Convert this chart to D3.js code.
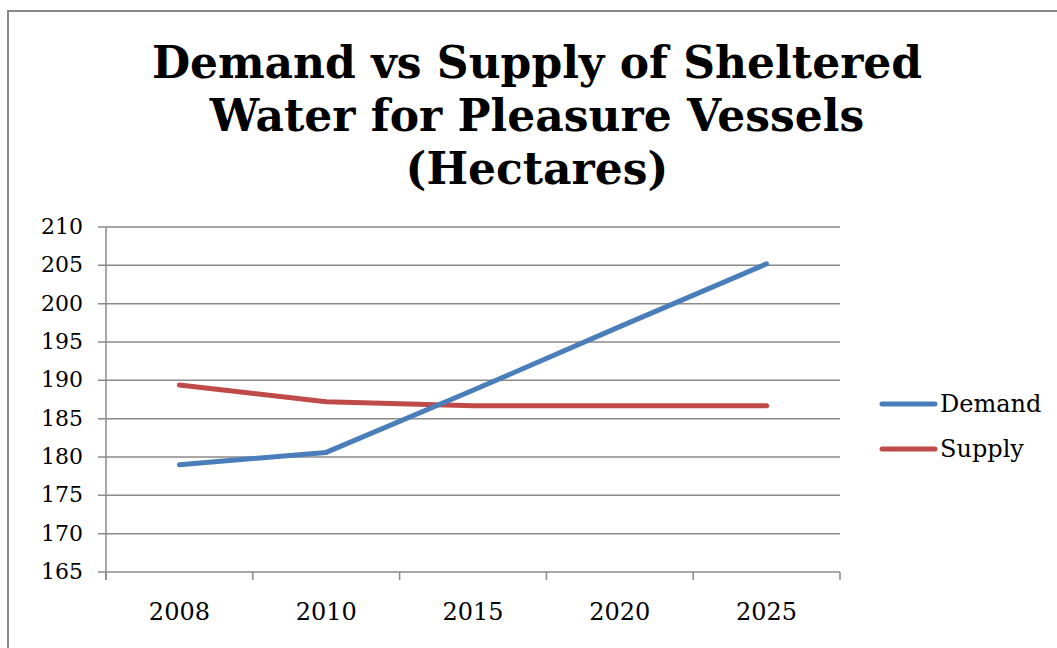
<!DOCTYPE html>
<html><head><meta charset="utf-8">
<script src="https://cdn.jsdelivr.net/npm/d3@7"></script>
<style>body{margin:0;background:#fff}svg{display:block}</style>
</head><body>
<script>
const categories = ["2008","2010","2015","2020","2025"];
const demand = [179.0, 180.6, 188.7, 197.0, 205.2];
const supply = [189.4, 187.2, 186.7, 186.7, 186.7];
const yTicks = [165,170,175,180,185,190,195,200,205,210];
const titleLines = ["Demand vs Supply of Sheltered","Water for Pleasure Vessels","(Hectares)"];

const W=1057,H=648;
const FONT="DejaVu Serif, serif";
const svg=d3.select("body").append("svg").attr("width",W).attr("height",H);
svg.append("rect").attr("width",W).attr("height",H).attr("fill","#fff");
svg.append("path").attr("d","M8,648 L8,11 L1057,11").attr("fill","none").attr("stroke","#888").attr("stroke-width",2);

const L=106,R=840,T=227,B=572;
const x=d3.scaleBand().domain(categories).range([L,R]);
const y=d3.scaleLinear().domain([165,210]).range([B,T]);

svg.selectAll("text.title").data(titleLines).enter().append("text")
 .attr("x",537).attr("y",(d,i)=>78+i*53).attr("text-anchor","middle")
 .attr("font-family",FONT).attr("font-weight","bold").attr("font-size",44)
 .text(d=>d);

const g=svg.append("g");
g.selectAll("line.grid").data(yTicks).enter().append("line")
 .attr("x1",L-8).attr("x2",R).attr("y1",d=>y(d)).attr("y2",d=>y(d))
 .attr("stroke","#8a8a8a").attr("stroke-width",1.5);
g.append("line").attr("x1",L).attr("x2",L).attr("y1",T).attr("y2",B+8).attr("stroke","#8a8a8a").attr("stroke-width",1.5);
const xt=categories.map(c=>x(c)).concat([R]);
g.selectAll("line.xt").data(xt).enter().append("line")
 .attr("x1",d=>d).attr("x2",d=>d).attr("y1",B).attr("y2",B+8).attr("stroke","#8a8a8a").attr("stroke-width",1.5);

svg.selectAll("text.yl").data(yTicks).enter().append("text")
 .attr("x",83).attr("y",d=>y(d)+7).attr("text-anchor","end")
 .attr("font-family",FONT).attr("font-size",22).text(d=>d);
svg.selectAll("text.xl").data(categories).enter().append("text")
 .attr("x",d=>x(d)+x.bandwidth()/2).attr("y",620).attr("text-anchor","middle")
 .attr("font-family",FONT).attr("font-size",24).text(d=>d);

const line=d3.line().x((d,i)=>x(categories[i])+x.bandwidth()/2).y(d=>y(d));
const series=[{name:"Demand",vals:demand,color:"#4a7ebb"},{name:"Supply",vals:supply,color:"#be4b48"}];
series.slice().reverse().forEach(s=>{
 svg.append("path").attr("d",line(s.vals)).attr("fill","none").attr("stroke",s.color)
  .attr("stroke-width",5).attr("stroke-linecap","round").attr("stroke-linejoin","round");
});
series.forEach((s,i)=>{
 const ly=404+i*45;
 svg.append("line").attr("x1",882).attr("x2",935).attr("y1",ly).attr("y2",ly)
  .attr("stroke",s.color).attr("stroke-width",5).attr("stroke-linecap","round");
 svg.append("text").attr("x",940).attr("y",ly+8).attr("font-family",FONT)
  .attr("font-size",24).text(s.name);
});
</script>
</body></html>
